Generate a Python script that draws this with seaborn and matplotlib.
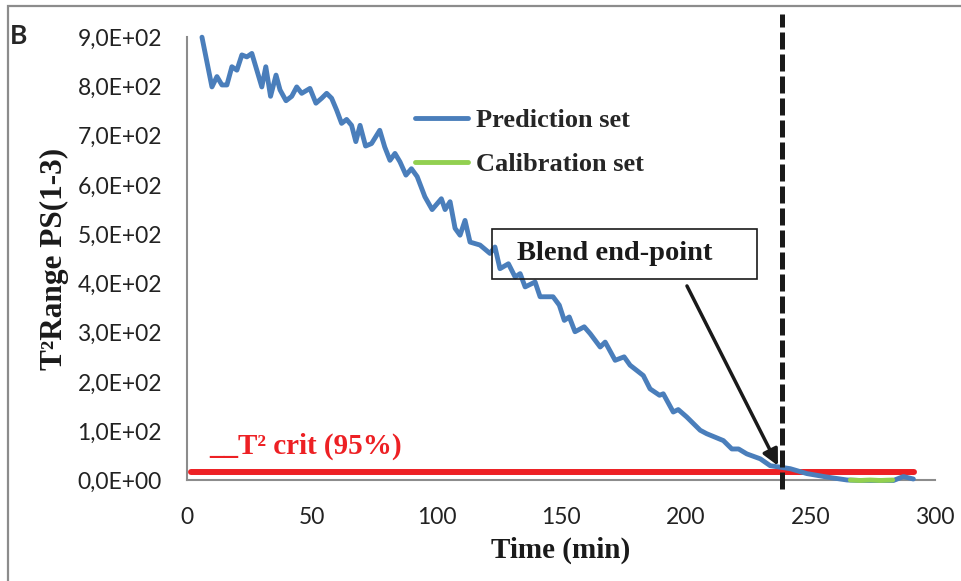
import numpy as np
import pandas as pd
import seaborn as sns
import matplotlib.pyplot as plt
from matplotlib.ticker import FuncFormatter
from matplotlib.patches import Rectangle

# prediction set (T2 range vs time)
pred_time = [6, 10, 12, 14, 16, 18, 20, 22, 24, 26, 28, 30, 31.6, 33.5, 35.7, 37.3,
             39.7, 42, 44, 46, 49.3, 51.7, 54, 56, 58, 60, 62, 64, 66, 67.7, 69.4,
             71.6, 74, 77.3, 79.3, 81.4, 83.4, 85.4, 87.8, 90, 92.3, 95.4, 98.3, 102,
             103.5, 105.5, 107.5, 109.5, 111.5, 113.5, 117.5, 121.5, 123.5, 125.5,
             128.9, 131.6, 133.6, 135.6, 139.6, 141.6, 146.8, 149.3, 151.3, 153.3,
             155.6, 159.3, 161.7, 165.7, 167.7, 171.7, 175.3, 177.7, 183, 185.7,
             189.5, 191, 195, 197, 200.4, 205.8, 208.4, 215.1, 218.5, 221.2, 224.5,
             229.9, 233.9, 237.9, 241.9, 248.6, 256.6, 264.7, 270, 276, 283.3, 287.3,
             291.3]
pred_t2 = [900, 799, 820, 803, 803, 840, 833, 864, 860, 867, 833, 799, 840, 780, 823,
           793, 771, 780, 799, 786, 796, 766, 776, 786, 776, 752, 725, 733, 721, 688,
           721, 679, 684, 711, 677, 650, 664, 647, 620, 633, 617, 576, 550, 572, 550,
           566, 512, 498, 528, 484, 478, 461, 474, 430, 440, 413, 420, 393, 403, 373,
           373, 356, 325, 332, 302, 312, 298, 271, 281, 244, 251, 234, 213, 186, 173,
           176, 139, 144, 129, 102, 95, 81, 64, 64, 54, 44, 30, 27, 24, 14, 7, 1, 0,
           0, 0, 8, 3]

# calibration set
cal_time = [266, 270, 274, 278, 283]
cal_t2 = [1, 0, 1, 0, 1]

T2_CRIT = 17
CRIT_START, CRIT_END = 1.5, 291.5
END_POINT = 238.5

BLUE = "#4a7ebb"
GREEN = "#92d050"
RED = "#ed2024"
INK = "#1a1a1a"

sns.set_style("white")
plt.rcParams["font.family"] = ["Lato", "DejaVu Sans"]

pred = pd.DataFrame({"time": pred_time, "t2": pred_t2})
cal = pd.DataFrame({"time": cal_time, "t2": cal_t2})

fig = plt.figure(figsize=(9.62, 5.81), dpi=100)
ax = fig.add_axes([0.1944, 0.173, 0.7776, 0.763])

sns.lineplot(data=pred, x="time", y="t2", ax=ax, color=BLUE, lw=3.5,
             label="Prediction set", zorder=3, clip_on=False)
sns.lineplot(data=cal, x="time", y="t2", ax=ax, color=GREEN, lw=3.5,
             label="Calibration set", zorder=4, clip_on=False)
ax.hlines(T2_CRIT, CRIT_START, CRIT_END, color=RED, lw=4.3, zorder=2,
          capstyle="round")
ax.plot([END_POINT, END_POINT], [-18, 947], color=INK, lw=3.6,
        dashes=(3.4, 1.0), clip_on=False, zorder=5)

ax.set_xlim(0, 300)
ax.set_ylim(0, 900)
ax.set_xticks(range(0, 301, 50))
ax.set_yticks(range(0, 901, 100))
ax.yaxis.set_major_formatter(FuncFormatter(lambda v, p: f"{v:.1E}".replace(".", ",")))
ax.tick_params(length=0, labelsize=16.5, colors="#222222")
ax.tick_params(axis="y", pad=18)
ax.tick_params(axis="x", pad=19)

for s in ["top", "right"]:
    ax.spines[s].set_visible(False)
for s in ["left", "bottom"]:
    ax.spines[s].set_color("#8c8c8c")
    ax.spines[s].set_linewidth(1.5)
    ax.spines[s].set_zorder(1)

serif = dict(family="Liberation Serif", weight="bold")
ax.set_xlabel("Time (min)", fontsize=21, labelpad=6, color=INK, **serif)
ax.set_ylabel("T\u00b2Range PS(1-3)", fontsize=22.5, labelpad=6, color=INK, **serif)

ax.legend(loc="upper left", bbox_to_anchor=(0.305, 0.838), frameon=False,
          borderpad=0, borderaxespad=0, handlelength=2.0, handletextpad=0.3,
          labelspacing=0.77, prop=dict(family="Liberation Serif", weight="bold", size=19))

ax.text(9, 70, "__T\u00b2 crit (95%)", color=RED, fontsize=21, va="center", **serif)

ax.add_patch(Rectangle((122.3, 409), 106.3, 101, fill=False, ec=INK, lw=1.2, zorder=6))
ax.text(132.3, 460, "Blend end-point", fontsize=20.5, va="center", color=INK, zorder=6,
        **serif)
ax.annotate("", xy=(237.5, 25), xytext=(200, 400),
            arrowprops=dict(arrowstyle="-|>", color=INK, lw=2.5, mutation_scale=24))

fig.text(10 / 962, 1 - 36 / 581, "B", fontsize=19, weight="bold", va="center",
         family=["Lato", "DejaVu Sans"])
fig.patches.append(Rectangle((8 / 962, -0.1), 1.2, 1.1 - 6 / 581, transform=fig.transFigure,
                             fill=False, ec="#8c8c8c", lw=1.6))

fig.savefig("out.png", dpi=100)
